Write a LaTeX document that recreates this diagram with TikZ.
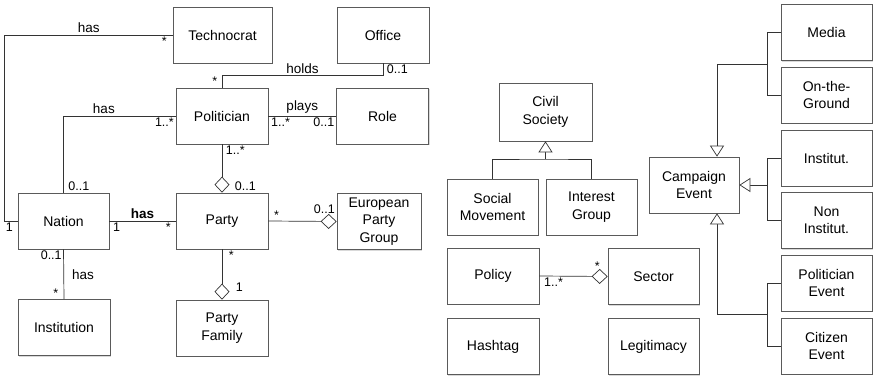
\documentclass[tikz,border=0pt]{standalone}
\usepackage{fontspec}
\setmainfont{Liberation Sans}
\usetikzlibrary{positioning,calc,arrows.meta,shadows}
\definecolor{boxline}{HTML}{5A5A5A}
\definecolor{linegray}{HTML}{333333}
\definecolor{shadowgray}{HTML}{B4B4B4}
\tikzset{
  % --- class boxes ---
  umlclass/.style={draw=boxline, line width=0.7pt, fill=white, align=center,
                   minimum width=92pt, minimum height=56pt, inner sep=2pt,
                   font=\fontsize{14}{17.5}\selectfont,
                   drop shadow={shadow xshift=1.3pt, shadow yshift=-1.3pt,
                                fill=shadowgray}},
  % --- multiplicities and association names ---
  mult/.style={font=\fontsize{12.5}{14}\selectfont, inner sep=1.5pt},
  assocname/.style={font=\fontsize{13.5}{15}\selectfont, inner sep=2pt},
  % --- connectors ---
  assoc/.style={line width=0.7pt, draw=linegray},
  aggreg/.style={assoc, {Diamond[fill=white, length=16pt, width=15pt]}-},
  general/.style={assoc, -{Triangle[fill=white, length=11pt, width=14pt]}},
}
\begin{document}
\begin{tikzpicture}[x=1pt, y=1pt]
  \useasboundingbox (0,0) rectangle (875,-377);

  % political actors, left half
  \node[umlclass, minimum width=99pt] (techno) at (222.5,-35) {Technocrat};
  \node[umlclass] (office) at (383,-35) {Office};
  \node[umlclass] (pol)    at (222,-116) {Politician};
  \node[umlclass] (role)   at (382.5,-116) {Role};
  \node[umlclass, minimum width=91pt] (nation) at (63.5,-221) {Nation};
  \node[umlclass] (party)  at (222,-221) {Party};
  \node[umlclass, minimum width=84pt] (epg) at (379,-221.5) {European\\Party\\Group};
  \node[umlclass] (inst)   at (64,-327.5) {Institution};
  \node[umlclass] (family) at (222,-328) {Party\\Family};

  % associations
  \draw[assoc] (techno.west) node[mult, below left, xshift=-4pt]{*}
        -- node[assocname, above]{has} ++(-168,0)
        |- (nation.west) node[mult, below left, xshift=-3pt]{1};
  \draw[assoc] (pol.north) node[mult, above left, xshift=-3pt]{*} -- ++(0,12)
        -| node[assocname, pos=0.25, above]{holds} (office.south)
        node[mult, below right, xshift=2pt]{0..1};
  \draw[assoc] (pol.west) node[mult, below left]{1..*}
        -| node[assocname, pos=0.32, above]{has} (nation.north)
        node[mult, above right, xshift=3pt]{0..1};
  \draw[assoc] (pol.east) node[mult, below right, xshift=1pt]{1..*}
        -- node[assocname, above]{plays} (role.west)
        node[mult, below left]{0..1};
  \draw[assoc] (nation.east) node[mult, below right, xshift=2pt]{1}
        -- node[assocname, above]{\bfseries has} (party.west)
        node[mult, below left, xshift=-3pt]{*};
  \draw[assoc] (nation.south) node[mult, below left]{0..1}
        -- node[assocname, right, xshift=6pt]{has} (inst.north)
        node[mult, above left, xshift=-4pt]{*};

  % aggregations, diamond at the whole
  \draw[aggreg] (party.north) node[mult, above right, xshift=11pt]{0..1}
        -- (pol.south) node[mult, below right, xshift=2pt]{1..*};
  \draw[aggreg] (epg.west) node[mult, above left, yshift=6pt]{0..1}
        -- (party.east) node[mult, above right, xshift=4pt]{*};
  \draw[aggreg] (family.north) node[mult, right, xshift=12pt, yshift=12pt]{1}
        -- (party.south) node[mult, below right, xshift=5pt]{*};

  % civil society, policy, events: right half
  \node[umlclass, minimum width=93pt, minimum height=58pt] (civil) at (545.5,-112) {Civil\\Society};
  \node[umlclass, minimum width=91pt] (social)   at (492.5,-207) {Social\\Movement};
  \node[umlclass, minimum width=91pt] (interest) at (591.5,-207) {Interest\\Group};
  \node[umlclass] (policy)  at (493,-276) {Policy};
  \node[umlclass, minimum width=91pt] (sector)  at (653.5,-276.5) {Sector};
  \node[umlclass] (hashtag) at (493,-346.5) {Hashtag};
  \node[umlclass, minimum width=91pt] (legit)   at (653.5,-346.5) {Legitimacy};
  \node[umlclass, minimum width=90pt] (campaign) at (694,-185) {Campaign\\Event};

  \node[umlclass, minimum width=91pt] (media)    at (826.5,-32.5) {Media};
  \node[umlclass, minimum width=91pt] (ground)   at (826.5,-95) {On-the-\\Ground};
  \node[umlclass, minimum width=91pt] (institut) at (826.5,-158) {Institut.};
  \node[umlclass, minimum width=91pt] (noninst)  at (826.5,-220.5) {Non\\Institut.};
  \node[umlclass, minimum width=91pt] (polevent) at (826.5,-283) {Politician\\Event};
  \node[umlclass, minimum width=91pt] (citizen)  at (826.5,-346) {Citizen\\Event};

  % generalisations (shared junctions)
  \coordinate (civj)   at (545.5,-159);
  \coordinate (mediaj) at (767,-64);
  \coordinate (instj)  at (767,-185);
  \coordinate (eventj) at (767,-314.5);

  \draw[assoc] (social.north) |- (civj) -| (interest.north);
  \draw[general] (civj) -- (civil.south);

  \draw[assoc] (media.west) -| (mediaj) |- (ground.west);
  \draw[general] (mediaj) -| ([xshift=23pt]campaign.north);
  \draw[assoc] (institut.west) -| (instj) |- (noninst.west);
  \draw[general] (instj) -- (campaign.east);
  \draw[assoc] (polevent.west) -| (eventj) |- (citizen.west);
  \draw[general] (eventj) -| ([xshift=23pt]campaign.south);

  \draw[aggreg] (sector.west) node[mult, above left, xshift=-6pt, yshift=4pt]{*}
        -- (policy.east) node[mult, below right, xshift=3pt]{1..*};
\end{tikzpicture}
\end{document}
